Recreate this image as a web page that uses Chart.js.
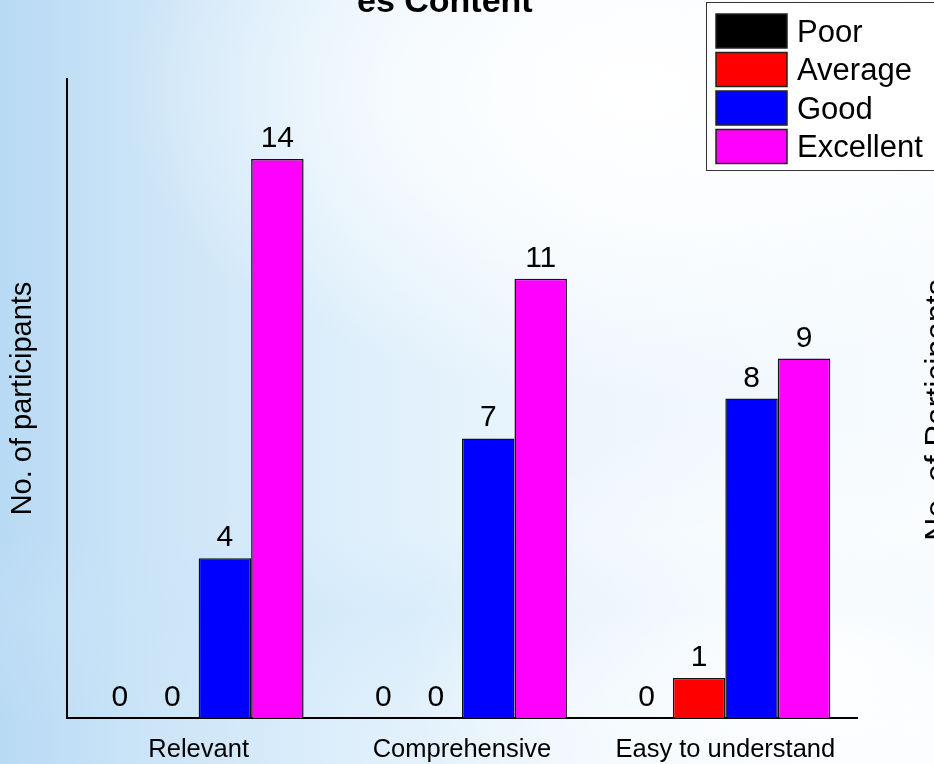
<!DOCTYPE html>
<html>
<head>
<meta charset="utf-8">
<script src="https://cdn.jsdelivr.net/npm/chart.js@4/dist/chart.umd.min.js"></script>
<style>
html,body{margin:0;padding:0;}
body{width:934px;height:764px;overflow:hidden;
background:
 radial-gradient(ellipse 55% 40% at 68% 12%, rgba(255,255,255,1) 0%, rgba(255,255,255,0.7) 45%, rgba(255,255,255,0) 100%),
 radial-gradient(ellipse 45% 35% at 88% 88%, rgba(255,255,255,0.95) 0%, rgba(255,255,255,0) 100%),
 linear-gradient(to bottom, rgba(255,255,255,0) 0%, rgba(255,255,255,0) 70%, rgba(200,228,248,0.35) 80%, rgba(255,255,255,0) 95%),
 linear-gradient(to right, #b8daf4 0%, #cbe4f7 15%, #deeffb 38%, #edf6fd 62%, #f7fbfe 100%);}
#wrap{position:absolute;left:0;top:0;width:934px;height:764px;}
</style>
</head>
<body>
<div id="wrap"><canvas id="c" width="934" height="764"></canvas></div>
<script>
const categories = ["Relevant", "Comprehensive", "Easy to understand"];
const seriesNames = ["Poor", "Average", "Good", "Excellent"];
const poor = [0, 0, 0];
const average = [0, 0, 1];
const good = [4, 7, 8];
const excellent = [14, 11, 9];
const seriesColors = ["#000000", "#ff0000", "#0000ff", "#ff00ff"];
const yAxisTitle = "No. of participants";
const titleFragment = "es Content";
const sideFragment = "No. of Participants";
const yMin = 0, yMax = 16;

const seriesValues = [poor, average, good, excellent];
const FONT = "'Liberation Sans', Arial, sans-serif";

const extras = {
  id: 'extras',
  afterDatasetsDraw(chart) {
    const ctx = chart.ctx;
    ctx.save();
    ctx.fillStyle = '#000';
    ctx.font = '30px ' + FONT;
    ctx.textAlign = 'center';
    ctx.textBaseline = 'alphabetic';
    chart.data.datasets.forEach((ds, i) => {
      const meta = chart.getDatasetMeta(i);
      meta.data.forEach((bar, j) => {
        ctx.fillText(String(ds.data[j]), bar.x, bar.y - 12);
      });
    });
    ctx.restore();
  },
  afterDraw(chart) {
    const ctx = chart.ctx;
    ctx.save();
    ctx.fillStyle = '#000';
    ctx.font = 'bold 34px ' + FONT;
    ctx.textAlign = 'left';
    ctx.textBaseline = 'alphabetic';
    ctx.fillText(titleFragment, 357, 12);
    ctx.save();
    ctx.translate(922, 410);
    ctx.rotate(-Math.PI / 2);
    ctx.font = '32px ' + FONT;
    ctx.textAlign = 'center';
    ctx.textBaseline = 'top';
    ctx.fillText(sideFragment, 0, 0);
    ctx.restore();
    const lx = 706, ly = 2, lw = 240, lh = 168;
    ctx.fillStyle = '#ffffff';
    ctx.fillRect(lx, ly, lw, lh);
    ctx.strokeStyle = '#333';
    ctx.lineWidth = 1;
    ctx.strokeRect(lx + 0.5, ly + 0.5, lw, lh);
    ctx.font = '31px ' + FONT;
    ctx.textBaseline = 'middle';
    chart.data.datasets.forEach((ds, i) => {
      const y = 14 + i * 38.5;
      ctx.fillStyle = ds.backgroundColor;
      ctx.fillRect(716, y, 71, 34);
      ctx.strokeStyle = '#222';
      ctx.lineWidth = 1.5;
      ctx.strokeRect(716, y, 71, 34);
      ctx.fillStyle = '#000';
      ctx.fillText(ds.label, 797, y + 19);
    });
    ctx.restore();
  }
};

new Chart(document.getElementById('c'), {
  type: 'bar',
  data: {
    labels: categories,
    datasets: seriesNames.map((name, i) => ({
      label: name,
      data: seriesValues[i],
      backgroundColor: seriesColors[i],
      borderColor: '#111',
      borderWidth: ctx => (ctx.raw === 0 ? 0 : 1.5),
      borderSkipped: 'bottom',
      categoryPercentage: 0.797,
      barPercentage: 1
    }))
  },
  options: {
    responsive: false,
    animation: false,
    events: [],
    layout: { padding: { top: 79, right: 77, left: 0, bottom: 0 } },
    plugins: { legend: { display: false }, title: { display: false }, tooltip: { enabled: false } },
    scales: {
      x: {
        grid: { display: false, drawTicks: false },
        border: { display: true, color: '#000', width: 2 },
        ticks: { color: '#000', font: { family: FONT, size: 25.5 }, padding: 17, maxRotation: 0, autoSkip: false },
        afterFit(scale) { scale.height = 46; }
      },
      y: {
        min: yMin, max: yMax,
        grid: { display: false, drawTicks: false },
        border: { display: true, color: '#000', width: 2 },
        ticks: { display: false },
        title: { display: true, text: yAxisTitle, color: '#000', font: { family: FONT, size: 29 }, padding: { top: 6, bottom: 0 } },
        afterFit(scale) { scale.width = 67; }
      }
    }
  },
  plugins: [extras]
});
</script>
</body>
</html>
